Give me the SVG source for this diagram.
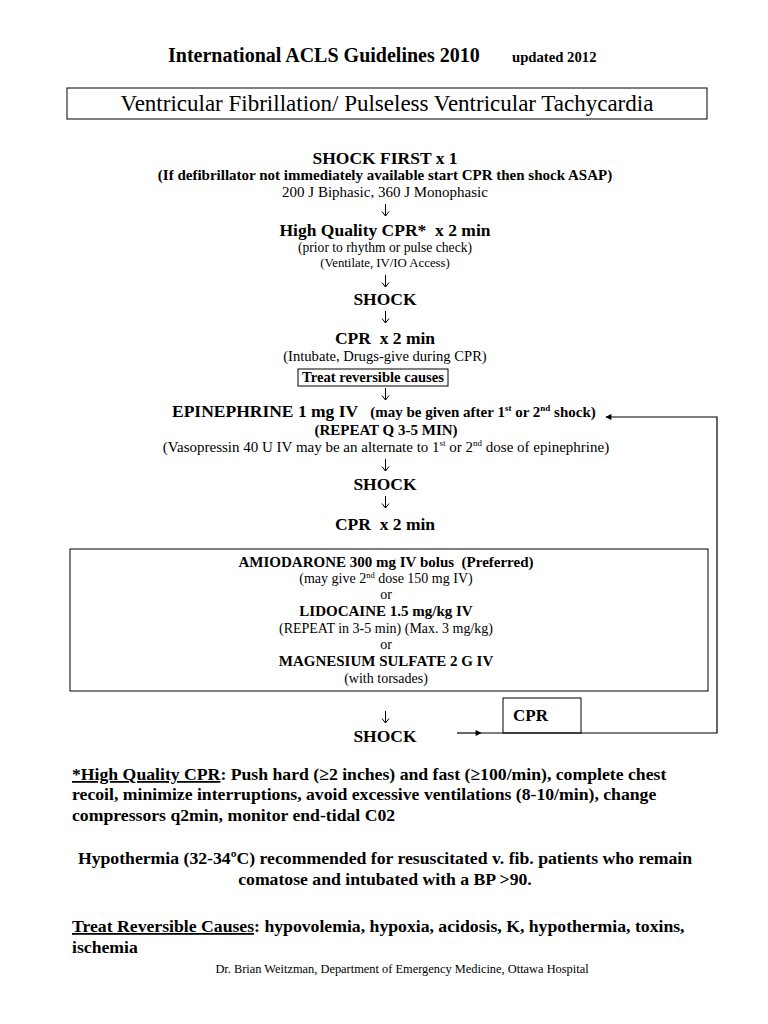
<svg xmlns="http://www.w3.org/2000/svg" xmlns:xlink="http://www.w3.org/1999/xlink" width="768" height="1024" viewBox="0 0 768 1024">
<style>
text{font-family:"Liberation Serif","DejaVu Serif",serif;fill:#000}
.c{text-anchor:middle}
.b{font-weight:bold}
.h{font-size:17.5px;font-weight:bold}
.s{font-size:15px}
.d{font-size:14px}
.db{font-size:15px;font-weight:bold}
.box{fill:none;stroke:#000;stroke-width:1}
.ln{fill:none;stroke:#000;stroke-width:1.2}
.da{fill:none;stroke:#000;stroke-width:1}
.p{font-size:17.7px;font-weight:bold}
</style>
<defs>
<marker id="ah" viewBox="0 0 10 10" refX="9" refY="5" markerWidth="8" markerHeight="6" orient="auto" markerUnits="userSpaceOnUse">
<path d="M0,0 L10,5 L0,10 z" fill="#000"/>
</marker>
<path id="darr" class="da" d="M0,0 V12 M-3.5,7.5 L0,12 L3.5,7.5"/>
</defs>
<rect width="768" height="1024" fill="#fff"/>
<g id="header">
<text x="168" y="62" font-size="20" class="b">International ACLS Guidelines 2010</text>
<text x="512" y="62" font-size="14.7" class="b">updated 2012</text>
</g>
<g id="title">
<rect x="67" y="88" width="640" height="31" class="box"/>
<text x="387" y="111" font-size="23" class="c">Ventricular Fibrillation/ Pulseless Ventricular Tachycardia</text>
</g>
<g id="shock-first">
<text x="385" y="164" class="c h">SHOCK FIRST x 1</text>
<text x="385" y="180" class="c s b">(If defibrillator not immediately available start CPR then shock ASAP)</text>
<text x="385" y="197" class="c s">200 J Biphasic, 360 J Monophasic</text>
</g>
<g id="hq-cpr">
<text x="385" y="236" class="c h" xml:space="preserve">High Quality CPR*  x 2 min</text>
<text x="385" y="252" class="c" font-size="13.6">(prior to rhythm or pulse check)</text>
<text x="385" y="267" class="c" font-size="12.8">(Ventilate, IV/IO Access)</text>
</g>
<g id="shock-2">
<text x="385" y="305" class="c h">SHOCK</text>
</g>
<g id="cpr-2">
<text x="385" y="344" class="c h" xml:space="preserve">CPR  x 2 min</text>
<text x="385" y="361" class="c" font-size="14.6">(Intubate, Drugs-give during CPR)</text>
<rect x="298" y="369" width="150" height="17" class="box"/>
<text x="373" y="382" class="c b" font-size="14.6">Treat reversible causes</text>
</g>
<g id="epinephrine">
<text x="172" y="417"><tspan class="h">EPINEPHRINE 1 mg IV</tspan><tspan font-size="15" font-weight="bold" dx="12">(may be given after 1</tspan><tspan font-size="9" font-weight="bold" dy="-6">st</tspan><tspan font-size="15" font-weight="bold" dy="6"> or 2</tspan><tspan font-size="9" font-weight="bold" dy="-6">nd</tspan><tspan font-size="15" font-weight="bold" dy="6"> shock)</tspan></text>
<text x="386" y="435" class="c s b">(REPEAT Q 3-5 MIN)</text>
<text x="386" y="452" class="c s">(Vasopressin 40 U IV may be an alternate to 1<tspan font-size="9" dy="-6">st</tspan><tspan dy="6"> or 2</tspan><tspan font-size="9" dy="-6">nd</tspan><tspan dy="6"> dose of epinephrine)</tspan></text>
</g>
<g id="shock-3">
<text x="385" y="490" class="c h">SHOCK</text>
</g>
<g id="cpr-3">
<text x="385" y="530" class="c h" xml:space="preserve">CPR  x 2 min</text>
</g>
<g id="drugs">
<rect x="70" y="549" width="638" height="142" class="box"/>
<text x="386" y="567" class="c db" xml:space="preserve">AMIODARONE 300 mg IV bolus  (Preferred)</text>
<text x="386" y="583" class="c d">(may give 2<tspan font-size="8.5" dy="-5">nd</tspan><tspan dy="5"> dose 150 mg IV)</tspan></text>
<text x="386" y="599" class="c d">or</text>
<text x="386" y="616" class="c db">LIDOCAINE 1.5 mg/kg IV</text>
<text x="386" y="633" class="c d">(REPEAT in 3-5 min) (Max. 3 mg/kg)</text>
<text x="386" y="649" class="c d">or</text>
<text x="386" y="666" class="c db">MAGNESIUM SULFATE 2 G IV</text>
<text x="386" y="683" class="c d">(with torsades)</text>
</g>
<g id="cpr-box">
<rect x="503" y="698" width="78" height="35" class="box"/>
<text x="513" y="721" font-size="17" class="b">CPR</text>
</g>
<g id="shock-4">
<text x="385" y="742" class="c h">SHOCK</text>
</g>
<g id="connectors">
<use xlink:href="#darr" href="#darr" x="385.5" y="204"/>
<use xlink:href="#darr" href="#darr" x="385.5" y="275"/>
<use xlink:href="#darr" href="#darr" x="385.5" y="311"/>
<use xlink:href="#darr" href="#darr" x="385.5" y="388"/>
<use xlink:href="#darr" href="#darr" x="385.5" y="459"/>
<use xlink:href="#darr" href="#darr" x="385.5" y="496"/>
<use xlink:href="#darr" href="#darr" x="385.5" y="711"/>
<line x1="457" y1="733" x2="481" y2="733" class="ln" marker-end="url(#ah)"/>
<polyline points="481,733 717,733 717,417 606,417" class="ln" marker-end="url(#ah)"/>
</g>
<g id="notes">
<text x="72" y="780" class="p"><tspan text-decoration="underline">*High Quality CPR</tspan>: Push hard (≥2 inches) and fast (≥100/min), complete chest</text>
<text x="72" y="800" class="p">recoil, minimize interruptions, avoid excessive ventilations (8-10/min), change</text>
<text x="72" y="821" class="p">compressors q2min, monitor end-tidal C02</text>
<text x="385" y="864" class="c p">Hypothermia (32-34ºC) recommended for resuscitated v. fib. patients who remain</text>
<text x="385" y="885" class="c p">comatose and intubated with a BP &gt;90.</text>
<text x="72" y="932" class="p"><tspan text-decoration="underline">Treat Reversible Causes</tspan>: hypovolemia, hypoxia, acidosis, K, hypothermia, toxins,</text>
<text x="72" y="953" class="p">ischemia</text>
<text x="402" y="973" class="c" font-size="12.4">Dr. Brian Weitzman, Department of Emergency Medicine, Ottawa Hospital</text>
</g>
</svg>
